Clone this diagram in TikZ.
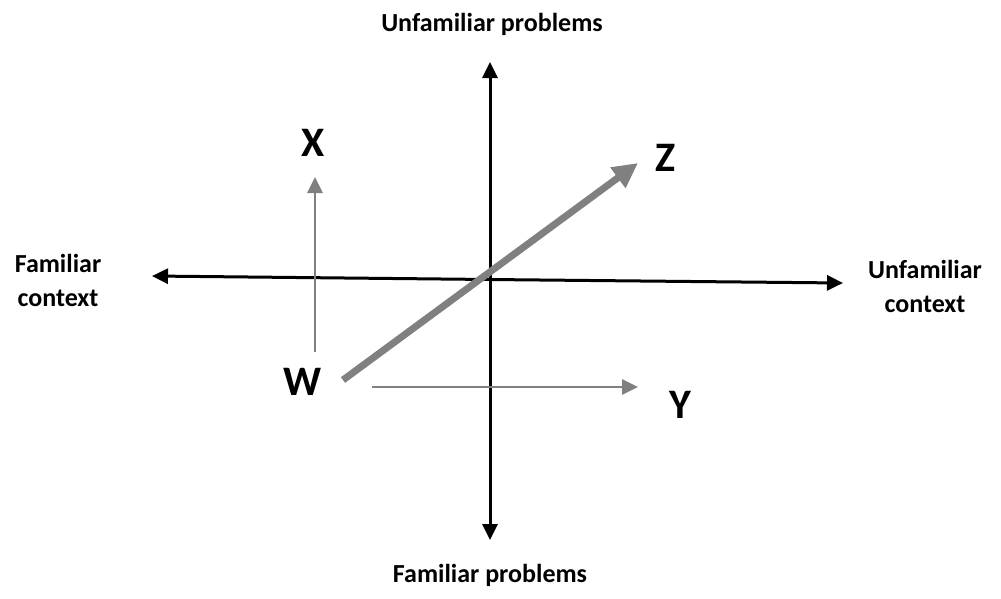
\documentclass[tikz,border=0pt]{standalone}
\usepackage{fontspec}
\setmainfont{Carlito}
\usetikzlibrary{arrows.meta}
\definecolor{arrgray}{RGB}{128,128,128}
\tikzset{
  axis/.style={line width=3pt, black, -{Triangle[length=16pt,width=15pt]}},
  thin gray/.style={line width=2.8pt, arrgray, -{Triangle[length=16pt,width=15pt]}},
  thick gray/.style={line width=7pt, arrgray, -{Triangle[length=25pt,width=24pt]}},
  small lbl/.style={font=\fontsize{26}{34}\selectfont\bfseries, align=center},
  big lbl/.style={font=\fontsize{42}{46}\selectfont\bfseries}
}
\begin{document}
\begin{tikzpicture}[x=1pt,y=-1pt]
\useasboundingbox (0,0) rectangle (1001,598);
\coordinate (vtop) at (490,62);
\coordinate (vbot) at (490,540);
\coordinate (hl) at (152,276);
\coordinate (hr) at (843,283);
\coordinate (vmid) at (490,300);
\coordinate (hmid) at (490,279.5);
\draw[axis] (vmid) -- (vtop);
\draw[axis] (vmid) -- (vbot);
\draw[axis] (hmid) -- (hl);
\draw[axis] (hmid) -- (hr);
\coordinate (xs) at (315,352);
\coordinate (xe) at (315,177);
\coordinate (ys) at (372,387);
\coordinate (ye) at (638,387);
\coordinate (zs) at (343,380);
\coordinate (ze) at (638,163);
\draw[thin gray] (xs) -- (xe);
\draw[thin gray] (ys) -- (ye);
\draw[thick gray] (zs) -- (ze);
\node[big lbl] (X) at (313,143) {X};
\node[big lbl] (Z) at (666,158) {Z};
\node[big lbl] (W) at (303,382) {W};
\node[big lbl] (Y) at (680,405) {Y};
\node[small lbl] (tp) at (492,24) {Unfamiliar problems};
\node[small lbl] (bp) at (490,575) {Familiar problems};
\node[small lbl] (lc) at (58,280) {Familiar\\context};
\node[small lbl] (rc) at (925,286) {Unfamiliar\\context};
\end{tikzpicture}
\end{document}
